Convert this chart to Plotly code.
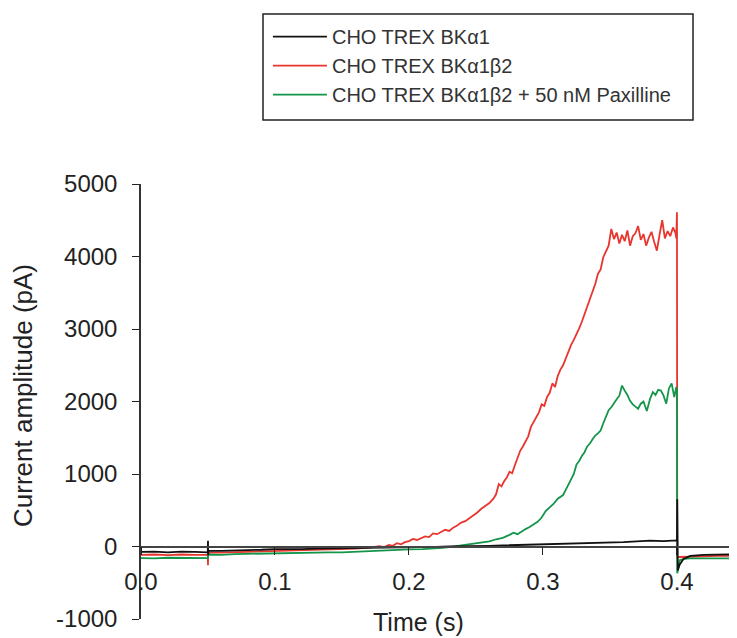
import plotly.graph_objects as go

# current traces (time in s, current in pA)
t_a1 = [0, 0.01, 0.02, 0.03, 0.04, 0.0498, 0.05, 0.0501, 0.0504, 0.06, 0.07, 0.08, 0.09,
        0.1, 0.11, 0.12, 0.13, 0.14, 0.15, 0.16, 0.17, 0.18, 0.19, 0.2, 0.21, 0.22, 0.23,
        0.24, 0.25, 0.26, 0.27, 0.28, 0.29, 0.3, 0.31, 0.32, 0.33, 0.34, 0.35, 0.36, 0.37,
        0.38, 0.39, 0.3995, 0.4, 0.4002, 0.4006, 0.402, 0.405, 0.41, 0.42, 0.43, 0.44, 0.45]
i_a1 = [-75, -70, -80, -70, -75, -80, 80, -120, -60, -60, -55, -60, -45,
        -35, -40, -35, -30, -30, -25, -25, -20, -15, -15, -10, -10, -5, 0,
        0, 5, 10, 15, 20, 25, 20, 30, 40, 35, 50, 55, 60, 70, 80, 75, 85, 100,
        650, -330, -250, -170, -130, -115, -110, -105, -105]

t_a1b2 = [0, 0.01, 0.02, 0.03, 0.04, 0.0498, 0.05, 0.0501, 0.0504, 0.06, 0.07, 0.08,
          0.09, 0.1, 0.11, 0.12, 0.13, 0.14, 0.15, 0.16, 0.17, 0.175, 0.178, 0.181,
          0.185, 0.188, 0.191, 0.194, 0.197, 0.2, 0.203, 0.206, 0.209, 0.212, 0.215,
          0.218, 0.221, 0.224, 0.227, 0.23, 0.233, 0.236, 0.239, 0.242, 0.245, 0.248,
          0.251, 0.254, 0.257, 0.26, 0.263, 0.265, 0.267, 0.269, 0.271, 0.273, 0.275,
          0.277, 0.279, 0.281, 0.283, 0.285, 0.287, 0.289, 0.291, 0.293, 0.295, 0.297,
          0.299, 0.301, 0.303, 0.305, 0.307, 0.309, 0.311, 0.313, 0.315, 0.317, 0.319,
          0.321, 0.323, 0.325, 0.327, 0.329, 0.331, 0.333, 0.335, 0.337, 0.339, 0.341,
          0.343, 0.345, 0.347, 0.349, 0.351, 0.353, 0.355, 0.357, 0.359, 0.361, 0.363,
          0.365, 0.367, 0.369, 0.371, 0.373, 0.375, 0.377, 0.379, 0.381, 0.383, 0.385,
          0.387, 0.389, 0.391, 0.393, 0.395, 0.397, 0.399, 0.3995, 0.4, 0.4002, 0.402,
          0.41, 0.42, 0.43, 0.45]
i_a1b2 = [-115, -110, -120, -110, -115, -115, -260, -30, -85, -85, -80, -80,
          -75, -70, -65, -60, -55, -45, -35, -30, -15, -5, 5, -10,
          20, 10, 45, 30, 60, 75, 105, 90, 120, 140, 130,
          180, 170, 200, 230, 215, 260, 290, 330, 350, 390, 420,
          470, 520, 560, 600, 660, 720, 860, 830, 900, 950, 1030,
          1010, 1120, 1230, 1320, 1380, 1460, 1520, 1650, 1720, 1780, 1850,
          1960, 1940, 2060, 2120, 2250, 2200, 2350, 2440, 2500, 2600, 2680,
          2780, 2850, 2920, 3010, 3100, 3200, 3300, 3420, 3500, 3620, 3760,
          3820, 3990, 4080, 4150, 4380, 4240, 4330, 4180, 4300, 4210, 4360,
          4150, 4280, 4320, 4420, 4230, 4310, 4150, 4260, 4340, 4200, 4080,
          4300, 4500, 4250, 4350, 4280, 4400, 4320, 4250, 4610, -150, -145,
          -140, -135, -130, -130]

t_pax = [0, 0.01, 0.02, 0.03, 0.04, 0.0498, 0.0502, 0.06, 0.07, 0.08, 0.09, 0.1, 0.11,
         0.12, 0.13, 0.14, 0.15, 0.16, 0.17, 0.18, 0.19, 0.2, 0.21, 0.22, 0.225, 0.23,
         0.235, 0.24, 0.245, 0.25, 0.255, 0.26, 0.265, 0.27, 0.275, 0.278, 0.281, 0.284,
         0.287, 0.29, 0.293, 0.296, 0.299, 0.302, 0.305, 0.308, 0.311, 0.313, 0.315,
         0.317, 0.319, 0.321, 0.323, 0.325, 0.327, 0.329, 0.331, 0.333, 0.335, 0.337,
         0.339, 0.341, 0.343, 0.345, 0.347, 0.349, 0.351, 0.353, 0.355, 0.357, 0.359,
         0.361, 0.363, 0.365, 0.367, 0.369, 0.371, 0.373, 0.375, 0.3775, 0.38, 0.382,
         0.384, 0.386, 0.388, 0.39, 0.392, 0.394, 0.396, 0.398, 0.3995, 0.4, 0.4002,
         0.402, 0.405, 0.41, 0.42, 0.45]
i_pax = [-160, -165, -155, -160, -155, -160, -110, -115, -105, -100, -100, -95, -90,
         -90, -85, -80, -80, -70, -65, -55, -50, -40, -35, -30, -20, -10,
         5, 10, 30, 45, 60, 70, 100, 120, 160, 190, 170, 210,
         240, 270, 300, 340, 400, 490, 540, 590, 660, 690, 710,
         780, 860, 920, 1000, 1130, 1180, 1250, 1300, 1380, 1420, 1480,
         1530, 1560, 1600, 1700, 1780, 1880, 1920, 1980, 2030, 2080, 2220,
         2150, 2090, 2010, 1960, 1930, 1900, 1970, 2000, 1870, 2040, 2130,
         2090, 2160, 2150, 2080, 1970, 2180, 2250, 2060, 2200, 2150, -370,
         -190, -170, -165, -165, -165]

names = ["CHO TREX BKα1", "CHO TREX BKα1β2", "CHO TREX BKα1β2 + 50 nM Paxilline"]
x_ticks = [0, 0.1, 0.2, 0.3, 0.4]
x_ticktext = ["0.0", "0.1", "0.2", "0.3", "0.4"]
y_ticks = [-1000, 0, 1000, 2000, 3000, 4000, 5000]
y_ticktext = ["-1000", "0", "1000", "2000", "3000", "4000", "5000"]

FONT = "Liberation Sans, Arial, sans-serif"

fig = go.Figure()
# drawing order: red, green, black on top; legend order black, red, green
fig.add_trace(go.Scatter(x=t_a1b2, y=i_a1b2, name=names[1], mode="lines",
                         line=dict(color="#e8352e", width=1.8), legendrank=2, legendgroup="b"))
fig.add_trace(go.Scatter(x=t_pax, y=i_pax, name=names[2], mode="lines",
                         line=dict(color="#13954a", width=1.8), legendrank=3, legendgroup="c"))
fig.add_trace(go.Scatter(x=t_a1, y=i_a1, name=names[0], mode="lines",
                         line=dict(color="#111111", width=1.8), legendrank=1, legendgroup="a"))

# page has an 8px body margin, so the figure is 8px smaller on each axis
fig.update_layout(
    width=729, height=630,
    margin=dict(l=133, r=0, t=176, b=19),
    paper_bgcolor="white", plot_bgcolor="white",
    font=dict(family=FONT, color="#222"),
    showlegend=True,
    legend=dict(x=0.2130, y=1.2720, xanchor="left", yanchor="middle",
                font=dict(size=20, color="#333"), bgcolor="rgba(0,0,0,0)",
                borderwidth=0, tracegroupgap=0, itemwidth=54),
)

fig.update_xaxes(
    range=[0, 0.4448], anchor="free", position=1/6,
    showgrid=False, zeroline=False,
    showline=True, linecolor="#444", linewidth=1.5,
    tickvals=x_ticks, ticktext=x_ticktext,
    ticks="outside", ticklen=8, tickwidth=1.3, tickcolor="#222",
    tickfont=dict(size=24, color="#222"), ticklabelstandoff=6,
)
fig.update_yaxes(
    range=[-1000, 5000], showgrid=False, zeroline=False,
    showline=True, linecolor="#333", linewidth=1.5,
    tickvals=y_ticks, ticktext=y_ticktext,
    ticks="outside", ticklen=7, tickwidth=1.3, tickcolor="#222",
    tickfont=dict(size=24, color="#222"), ticklabelstandoff=10,
)

# legend frame
fig.add_shape(type="rect", xref="paper", yref="paper",
              x0=0.2047, x1=0.9262, y0=1.1471, y1=1.3908,
              line=dict(color="#222", width=1.5), fillcolor="rgba(0,0,0,0)")

fig.add_annotation(text="Time (s)", xref="paper", yref="paper", x=0.466, y=-0.008,
                   xanchor="center", yanchor="middle", showarrow=False,
                   font=dict(size=25, color="#222"))
fig.add_annotation(text="Current amplitude (pA)", xref="paper", yref="paper",
                   x=-0.198, y=0.515, textangle=-90, xanchor="center", yanchor="middle",
                   showarrow=False, font=dict(size=26, color="#222"))

fig.write_html("out.html")
